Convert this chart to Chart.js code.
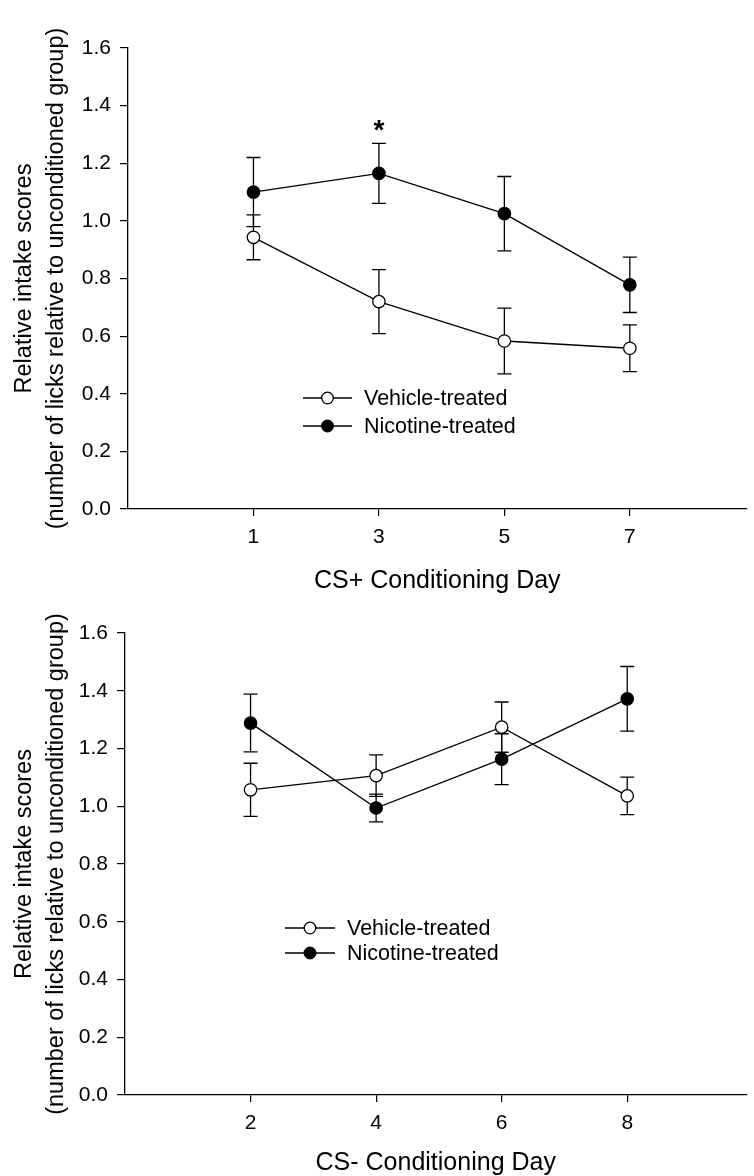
<!DOCTYPE html>
<html>
<head>
<meta charset="utf-8">
<script src="https://cdn.jsdelivr.net/npm/chart.js@4.4.1/dist/chart.umd.min.js"></script>
<style>
    body { margin: 0; background: #fff; width: 754px; height: 1176px; overflow: hidden; }
    .box { position: absolute; left: 0; width: 754px; }
    #topBox { top: 0; height: 600px; }
    #bottomBox { top: 600px; height: 576px; }
</style>
</head>
<body>
<div class="box" id="topBox"><canvas id="plusChart"></canvas></div>
<div class="box" id="bottomBox"><canvas id="minusChart"></canvas></div>
<script>
// CS+ panel data
const plusDays = [1, 3, 5, 7];
const plusVehicle = [0.943, 0.72, 0.583, 0.558];
const plusVehicleErr = [0.078, 0.111, 0.114, 0.081];
const plusNicotine = [1.10, 1.165, 1.025, 0.778];
const plusNicotineErr = [0.12, 0.104, 0.129, 0.096];
const plusStarDay = 3;
const plusStarValue = 1.33;

// CS- panel data
const minusDays = [2, 4, 6, 8];
const minusVehicle = [1.057, 1.106, 1.274, 1.036];
const minusVehicleErr = [0.092, 0.072, 0.087, 0.065];
const minusNicotine = [1.288, 0.994, 1.163, 1.372];
const minusNicotineErr = [0.10, 0.048, 0.088, 0.112];

const yTicks = [0, 0.2, 0.4, 0.6, 0.8, 1.0, 1.2, 1.4, 1.6];
const seriesNames = ['Vehicle-treated', 'Nicotine-treated'];

const FONT = 'Arial, "Liberation Sans", sans-serif';
const INK = '#000';

function toPoints(days, values) {
    return days.map((d, i) => ({ x: d, y: values[i] }));
}

// error bars drawn behind the markers
const errorBars = {
    id: 'errorBars',
    beforeDatasetsDraw(chart) {
        const { ctx, scales: { x, y } } = chart;
        ctx.save();
        ctx.strokeStyle = INK;
        ctx.lineWidth = 1.3;
        chart.data.datasets.forEach(ds => {
            ds.data.forEach((p, i) => {
                const e = ds.errors[i];
                const px = x.getPixelForValue(p.x);
                const top = y.getPixelForValue(p.y + e);
                const bot = y.getPixelForValue(p.y - e);
                ctx.beginPath();
                ctx.moveTo(px, top); ctx.lineTo(px, bot);
                ctx.moveTo(px - 7, top); ctx.lineTo(px + 7, top);
                ctx.moveTo(px - 7, bot); ctx.lineTo(px + 7, bot);
                ctx.stroke();
            });
        });
        ctx.restore();
    }
};

// legend placed inside the plot like the original figure
const innerLegend = {
    id: 'innerLegend',
    afterDraw(chart, args, opts) {
        const { ctx, chartArea } = chart;
        ctx.save();
        ctx.font = '21.5px ' + FONT;
        ctx.textBaseline = 'middle';
        chart.data.datasets.forEach((ds, i) => {
            const yy = chartArea.top + opts.rows[i];
            const x0 = chartArea.left + opts.line[0];
            const x1 = chartArea.left + opts.line[1];
            const xm = (x0 + x1) / 2;
            ctx.strokeStyle = INK;
            ctx.lineWidth = 1.3;
            ctx.beginPath();
            ctx.moveTo(x0, yy); ctx.lineTo(x1, yy);
            ctx.stroke();
            ctx.beginPath();
            ctx.arc(xm, yy, 5.8, 0, Math.PI * 2);
            ctx.fillStyle = ds.pointBackgroundColor;
            ctx.fill();
            ctx.stroke();
            ctx.fillStyle = INK;
            ctx.fillText(ds.label, chartArea.left + opts.text, yy + 1);
        });
        ctx.restore();
    }
};

// significance star
const starMark = {
    id: 'starMark',
    afterDraw(chart, args, opts) {
        if (!opts.show) return;
        const { ctx, scales: { x, y } } = chart;
        ctx.save();
        ctx.font = 'bold 28px ' + FONT;
        ctx.textAlign = 'center';
        ctx.textBaseline = 'middle';
        ctx.fillStyle = INK;
        ctx.fillText('*', x.getPixelForValue(plusStarDay), y.getPixelForValue(plusStarValue) + 5);
        ctx.restore();
    }
};

function makeDataset(label, days, values, errs, fill) {
    return {
        label: label,
        data: toPoints(days, values),
        errors: errs,
        borderColor: INK,
        borderWidth: 1.3,
        pointRadius: 6.2,
        pointHoverRadius: 6.2,
        pointBorderWidth: 1.3,
        pointBorderColor: INK,
        pointBackgroundColor: fill,
        showLine: true,
        tension: 0
    };
}

function buildChart(canvasId, cfg) {
    return new Chart(document.getElementById(canvasId), {
        type: 'scatter',
        data: {
            datasets: [
                makeDataset(seriesNames[0], cfg.days, cfg.vehicle, cfg.vehicleErr, '#fff'),
                makeDataset(seriesNames[1], cfg.days, cfg.nicotine, cfg.nicotineErr, INK)
            ]
        },
        options: {
            responsive: true,
            maintainAspectRatio: false,
            animation: false,
            layout: { padding: { top: cfg.padTop, left: 0, right: 0, bottom: 0 } },
            plugins: {
                legend: { display: false },
                tooltip: { enabled: false },
                innerLegend: cfg.legend,
                starMark: { show: cfg.star }
            },
            scales: {
                x: {
                    type: 'linear',
                    min: cfg.xMin,
                    max: cfg.xMax,
                    afterBuildTicks: s => { s.ticks = cfg.days.map(v => ({ value: v })); },
                    afterFit: s => { s.height = cfg.xHeight; },
                    ticks: { color: INK, font: { family: FONT, size: 21 }, padding: 9 },
                    grid: { drawOnChartArea: false, tickLength: 7, color: INK, lineWidth: 1.2 },
                    border: { color: INK, width: 1.3 },
                    title: {
                        display: true,
                        text: cfg.xTitle,
                        color: INK,
                        font: { family: FONT, size: 25, lineHeight: 1 },
                        padding: { top: 0, bottom: cfg.xTitlePad }
                    }
                },
                y: {
                    min: 0,
                    max: 1.6,
                    afterBuildTicks: s => { s.ticks = yTicks.map(v => ({ value: v })); },
                    afterFit: s => { s.width = cfg.yWidth; },
                    ticks: {
                        color: INK,
                        font: { family: FONT, size: 21 },
                        padding: 9,
                        callback: v => v.toFixed(1)
                    },
                    grid: { drawOnChartArea: false, tickLength: 8, color: INK, lineWidth: 1.2 },
                    border: { color: INK, width: 1.3 },
                    title: {
                        display: true,
                        text: ['Relative intake scores', '(number of licks relative to unconditioned group)'],
                        color: INK,
                        font: { family: FONT, size: 23.5, lineHeight: 1.38 },
                        padding: { top: 8, bottom: 0 }
                    }
                }
            }
        },
        plugins: [errorBars, innerLegend, starMark]
    });
}

buildChart('plusChart', {
    days: plusDays,
    vehicle: plusVehicle, vehicleErr: plusVehicleErr,
    nicotine: plusNicotine, nicotineErr: plusNicotineErr,
    xMin: -1, xMax: 8.86,
    padTop: 48, xHeight: 91, yWidth: 128, xTitlePad: 6,
    xTitle: 'CS+ Conditioning Day',
    legend: { line: [175, 224], text: 236, rows: [350, 378] },
    star: true
});

buildChart('minusChart', {
    days: minusDays,
    vehicle: minusVehicle, vehicleErr: minusVehicleErr,
    nicotine: minusNicotine, nicotineErr: minusNicotineErr,
    xMin: 0, xMax: 9.9,
    padTop: 33, xHeight: 81, yWidth: 125, xTitlePad: 0,
    xTitle: 'CS- Conditioning Day',
    legend: { line: [160, 210], text: 222, rows: [295, 320] },
    star: false
});
</script>
</body>
</html>
